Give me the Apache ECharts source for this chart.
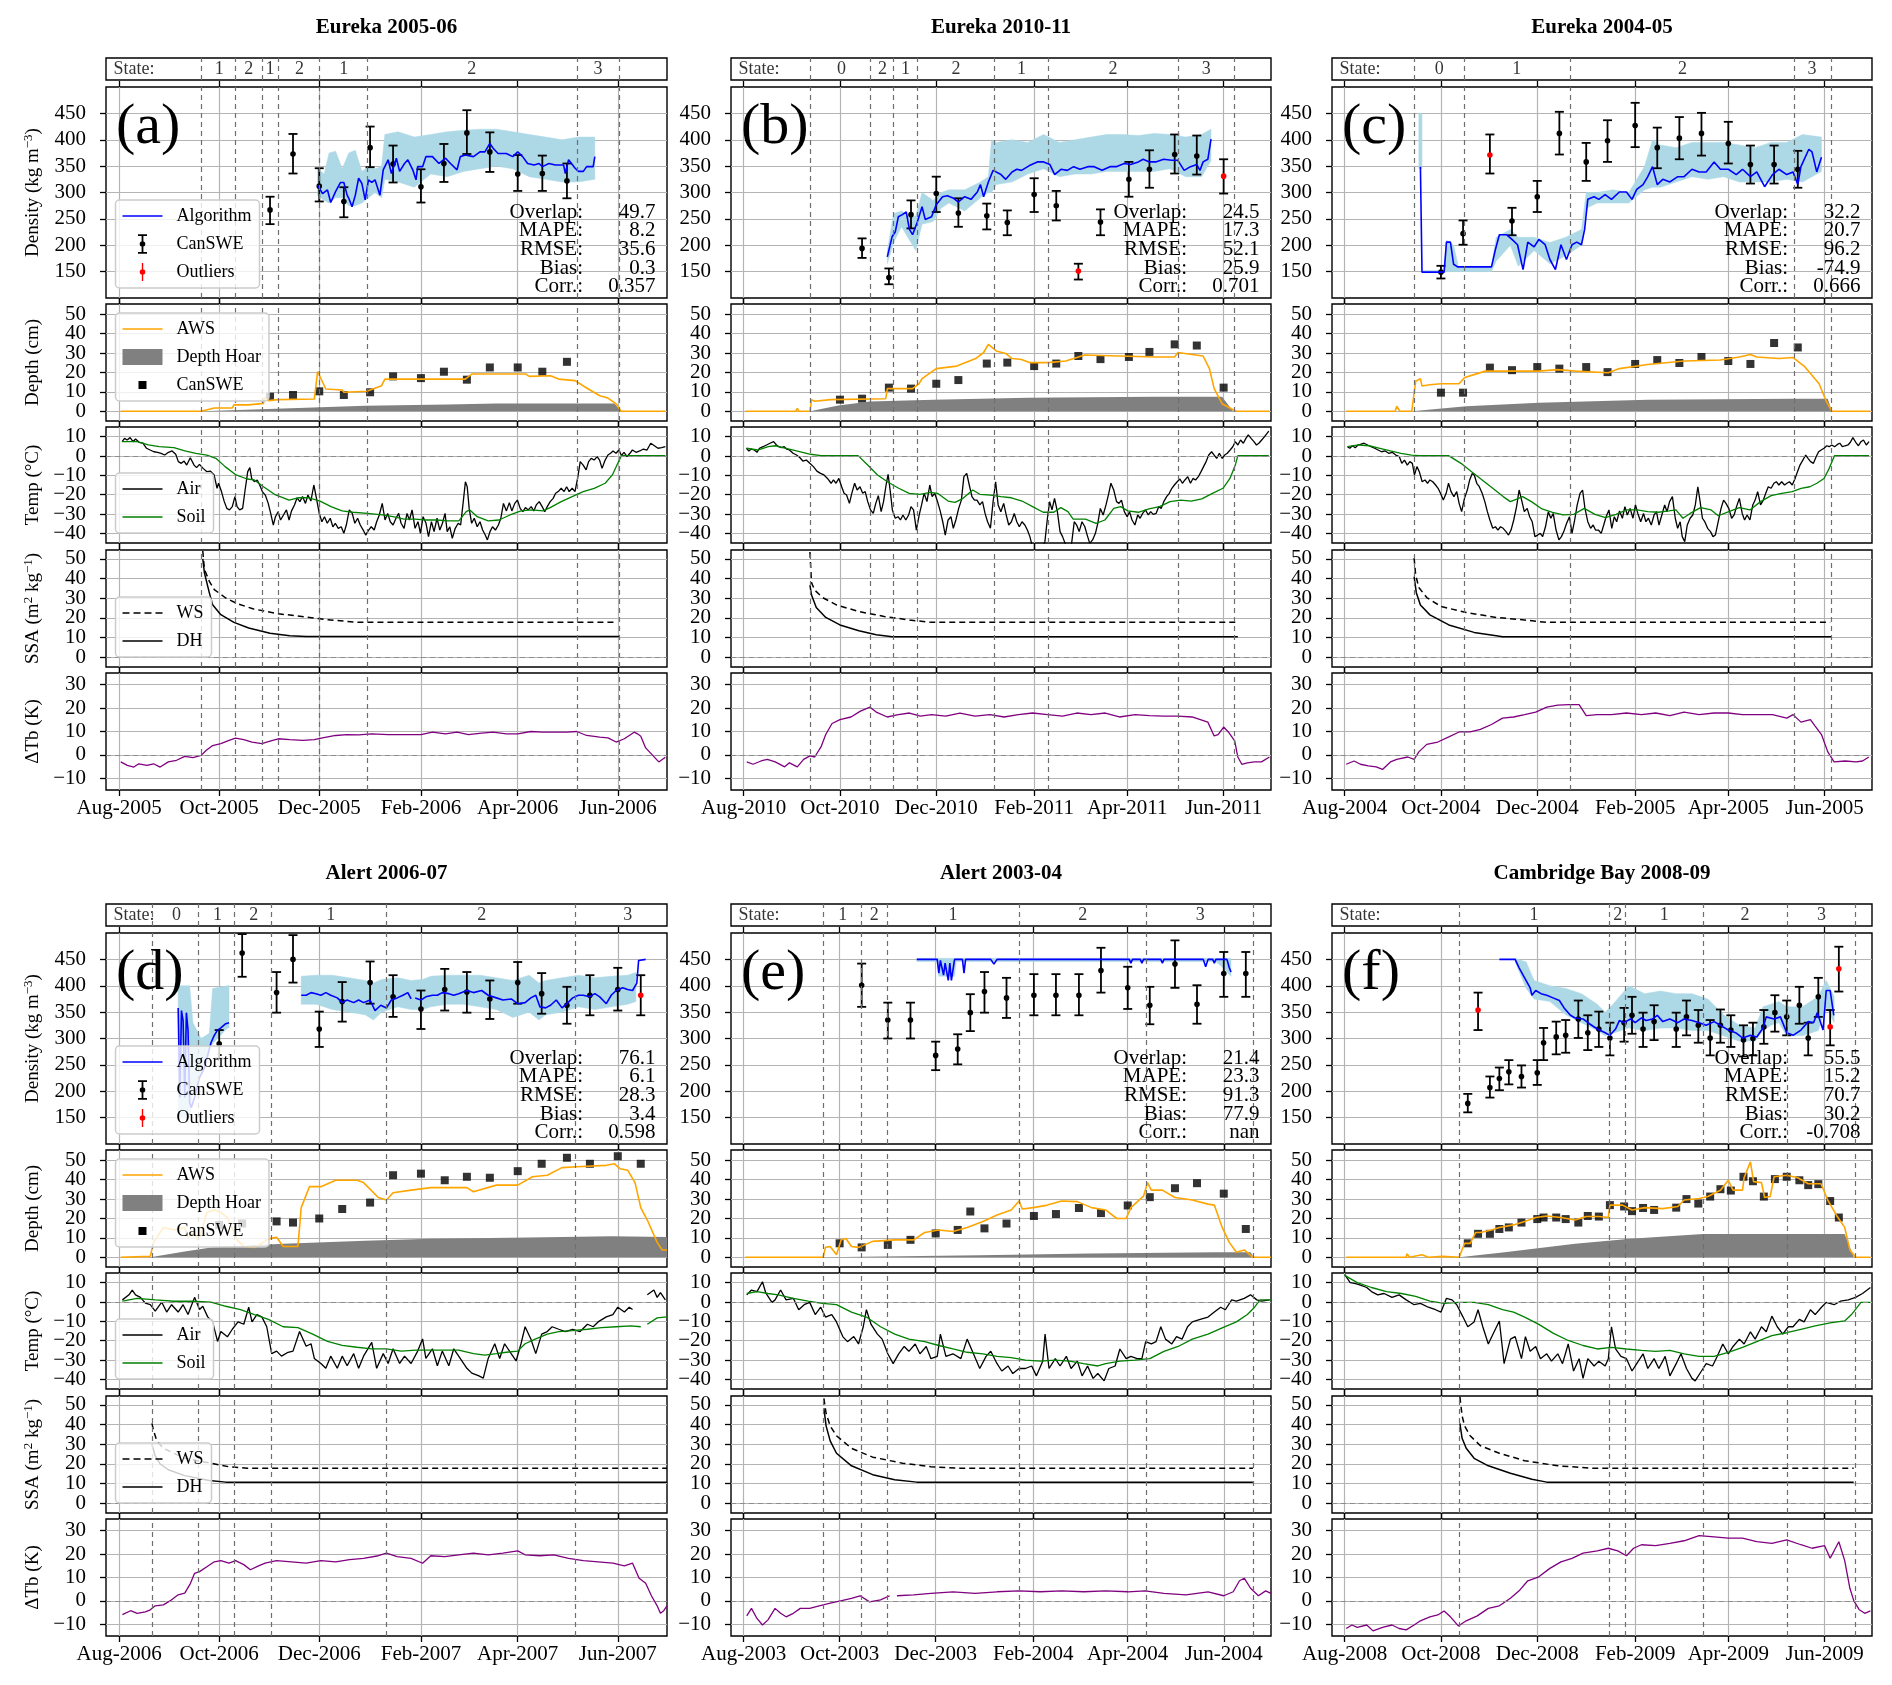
<!DOCTYPE html>
<html><head><meta charset="utf-8">
<script src="https://cdn.jsdelivr.net/npm/echarts@6/dist/echarts.min.js"></script>
<style>html,body{margin:0;padding:0;background:#fff}#c{width:1892px;height:1685px}</style>
</head><body><div id="c"></div>
<script>
// ===================== DATA =====================
const titles = ['Eureka 2005-06','Eureka 2010-11','Eureka 2004-05','Alert 2006-07','Alert 2003-04','Cambridge Bay 2008-09'];
const letters = ['(a)','(b)','(c)','(d)','(e)','(f)'];
const statNames = ['Overlap:','MAPE:','RMSE:','Bias:','Corr.:'];
const xTicksStd = [0,61,122,184,243,304];
const xTicksLeap = [0,61,122,184,244,305];
const densTicks = [150,200,250,300,350,400,450];
const depthTicks = [0,10,20,30,40,50];
const tempTicks = [-40,-30,-20,-10,0,10];
const ssaTicks = [0,10,20,30,40,50];
const dtbTicks = [-10,0,10,20,30];

// ---------- (a) Eureka 2005-06 ----------
const a_xLabels = ['Aug-2005','Oct-2005','Dec-2005','Feb-2006','Apr-2006','Jun-2006'];
const a_stateLines = [50,71,87,97,122,151,279,305];
const a_stateLabels = [[61,'1'],[79,'2'],[92,'1'],[110,'2'],[137,'1'],[215,'2'],[292,'3']];
const a_alg = [[121,314],[124,298],[127,305],[129,281],[132,302],[135,319],[137,319],[139,295],[140,289],[142,273],[144,295],[146,327],[148,317],[150,286],[152,324],[154,319],[156,324],[159,295],[161,343],[164,362],[166,336],[169,365],[171,340],[174,355],[176,362],[179,343],[181,324],[182,349],[185,349],[187,368],[191,368],[195,355],[199,365],[202,355],[206,343],[208,368],[211,371],[216,368],[220,377],[223,377],[226,393],[228,384],[231,374],[236,374],[240,368],[243,377],[246,368],[249,355],[253,352],[256,355],[258,349],[262,355],[266,352],[271,352],[272,336],[274,362],[278,346],[280,340],[283,340],[285,349],[289,349],[290,368]];
const a_band = [[121,295,345],[125,285,335],[128,280,375],[132,290,378],[136,290,345],[140,275,375],[144,275,380],[148,280,340],[152,290,350],[156,300,345],[160,290,350],[162,325,410],[170,320,415],[180,310,405],[190,335,410],[200,330,415],[210,340,418],[220,345,420],[230,350,420],[240,345,415],[250,330,410],[260,325,405],[270,320,400],[280,320,405],[290,325,405]];
const a_canswe = [[92,267,240,292],[106,373,336,411],[122,312,283,346],[137,283,253,310],[153,385,348,425],[167,354,319,389],[184,311,281,344],[198,355,320,392],[212,413,373,456],[226,377,339,414],[243,335,303,371],[258,336,303,370],[273,322,289,355]];
const a_outliers = [];
const a_aws = [[1,0],[50,0],[58,1.7],[69,1.7],[70,3.3],[79,3.3],[80,4.1],[88,4.1],[88.5,7.2],[91,5.5],[97,6],[119,6.3],[121,20.5],[126,11.5],[136,11],[137,9.8],[151,10.3],[160,13.2],[162,16.6],[211,16.6],[215,19.2],[248,19.2],[250,18],[263,18.3],[268,16.6],[278,15.8],[285,12],[293,8],[298,6.8],[303,3.8],[306,0],[333,0]];
const a_dh = [[50,0],[100,1.5],[150,2.8],[200,3.5],[230,4],[302,4],[306,0]];
const a_sweDepth = [[92,7.5],[106,8.4],[122,10.3],[137,8.4],[153,9.8],[167,18],[184,17.1],[198,20.4],[212,16.3],[226,22.6],[243,22.6],[258,20.4],[273,25.5]];
const a_air = [[1.8,7.4],[3.3,9.1],[4.9,8.3],[6.7,9.5],[8.5,7.4],[10,8.8],[12.2,7.1],[14.5,6.6],[16.7,4],[18.9,3.1],[21.2,2.2],[23.4,1.9],[25.6,1.4],[27.8,0.5],[30.1,1.9],[32.3,2.6],[34.5,0.9],[36.1,-2.9],[37.9,-3.8],[39.6,-2.6],[41.2,-4.7],[43.4,-0.9],[45.7,-4.7],[47.2,-6],[49,-4.3],[51.2,-6.4],[53.5,-8.1],[55.7,-7.8],[57.9,-9.8],[59.7,-16.7],[60.6,-14.1],[62.4,-18.4],[64.1,-23.6],[65.7,-27.1],[67.3,-27.9],[69,-26.2],[70.6,-21],[71.9,-26.2],[73.5,-27.9],[75.3,-27.1],[76.8,-17.6],[78.4,-8.1],[79.7,-6],[80.8,-11.6],[82.4,-13.3],[84.2,-12.4],[85.7,-15],[87.3,-18.4],[89.1,-20.2],[90.9,-24.5],[92.4,-29.7],[94,-35.7],[95.3,-31.4],[96.9,-28.8],[98.4,-33.1],[100.2,-30.5],[102,-27.9],[103.6,-33.1],[105.1,-28.4],[106.9,-25.3],[108.5,-21.6],[110.2,-23.6],[111.8,-21],[113.6,-24.5],[115.1,-20.2],[116.9,-23.3],[118.7,-15],[120.3,-21.9],[122,-29.7],[123.6,-34],[125.2,-31.4],[126.9,-34.8],[128.7,-32.2],[130.3,-36.6],[131.8,-34.8],[133.6,-37.4],[135.4,-36.6],[137,-40],[138.5,-35.7],[140.3,-27.9],[142.1,-29.7],[143.7,-34.8],[145.4,-32.2],[147,-35.7],[148.8,-38.3],[150.3,-40.9],[152.1,-38.3],[153.7,-36.6],[155.5,-38.3],[157,-34],[158.6,-30.5],[160.4,-24.5],[162.1,-33.1],[163.7,-29.7],[165.3,-34],[167,-35.7],[168.8,-32.2],[170.4,-29.7],[171.9,-34.8],[173.7,-37.4],[175.5,-29.7],[177,-33.1],[178.6,-27.9],[180.4,-37.4],[182.2,-34],[183.7,-40],[185.3,-31.4],[187.1,-34.8],[188.6,-41.7],[190.4,-34],[192,-39.1],[193.8,-32.2],[195.5,-38.3],[197.1,-34.8],[198.7,-29.7],[200,-39.1],[201.6,-36.6],[203.1,-42.6],[204.9,-37.4],[206.7,-34.8],[208.2,-35.7],[209.8,-23.6],[211.1,-13.3],[212.2,-15.9],[213.4,-27.1],[214.9,-34.8],[216.5,-32.2],[218.3,-36.6],[220,-34],[221.6,-38.3],[223.2,-40.9],[224.5,-43.4],[226.1,-39.1],[227.6,-36.6],[229.4,-38.3],[231.2,-35.7],[232.7,-32.2],[234.3,-24.5],[236.1,-28.4],[237.9,-24.1],[239.4,-28.4],[241.2,-24.5],[242.8,-22.8],[244.5,-27.1],[246.1,-28.8],[247.7,-26.7],[249.4,-27.9],[251.2,-26.2],[252.8,-28.4],[254.3,-25.3],[256.1,-23.6],[257.9,-26.2],[259.5,-28.8],[261,-26.2],[262.8,-23.6],[264.6,-21.9],[266.1,-19.3],[267.7,-18.4],[269.5,-16.7],[271.3,-18.4],[272.8,-15.9],[274.4,-18.4],[276.2,-16.7],[277.9,-18.4],[279.5,-11.6],[281.1,-2.9],[282.9,-4.7],[284.7,-7.2],[286.2,-2.9],[287.8,-1.2],[289.6,-2.1],[291.4,-0.3],[292.9,-2.1],[294.4,-6.4],[296.3,-2.1],[298,0.5],[299.6,1.4],[301.1,2.6],[302.9,1.4],[304.7,3.1],[306.2,0.2],[307.8,1.9],[309.6,-0.3],[311.4,1.4],[312.9,3.1],[315.1,1.9],[317.4,2.6],[319.6,3.6],[321.8,3.1],[324.1,6.6],[326.3,5.3],[328.5,4],[330.7,4.3],[333,4.8]];
const a_soil = [[1.8,7.4],[11.1,7.4],[17.8,5.7],[24.5,4.8],[33.4,4.3],[40.1,2.6],[46.8,1.4],[53.5,0.5],[59,-1.2],[64.6,-5.5],[71.3,-9.8],[78,-11.9],[82.4,-12.4],[88,-15.9],[94.7,-19.8],[103.6,-22.8],[109.1,-21.6],[115.8,-21.6],[122.5,-23.3],[129.2,-26.2],[135.9,-28.4],[142.5,-29.1],[151.4,-29.7],[160.4,-30.5],[167,-31.4],[173.7,-32.6],[180.4,-32.6],[187.1,-33.1],[193.8,-33.1],[200.4,-33.6],[207.1,-33.6],[211.6,-28.8],[213.8,-27.9],[218.3,-31.4],[225,-33.6],[231.6,-33.1],[238.3,-30.5],[245,-28.4],[251.7,-27.9],[258.4,-28.4],[262.8,-26.7],[269.5,-23.6],[276.2,-21],[282.9,-18.4],[289.6,-16.7],[296.3,-14.1],[300.7,-9.8],[304,-3.8],[306.2,0.2],[333,0.2]];
const a_ws = [[51,54],[52,44.6],[55,38.6],[58,34.4],[65,30.1],[72,27.2],[82,24.5],[97,22.1],[114,20.4],[127,19],[139,18.2],[146,17.7],[303,17.7]];
const a_dhs = [[51,50],[52,42.9],[55,32.7],[57,26.7],[62,21.6],[70,17.7],[79,14.8],[92,12.2],[104,10.9],[114,10.5],[305,10.5]];
const a_dtb = [[1,-3],[5,-4.5],[9,-5.2],[12,-3.8],[17,-4.5],[21,-3.8],[25,-5.2],[30,-3],[35,-2.3],[40,-0.6],[45,-1.2],[50,-0.2],[53,1.9],[57,4],[62,4.8],[67,6.2],[71,7.2],[76,6.5],[81,5.5],[87,4.8],[92,5.9],[97,6.9],[104,6.5],[112,6.2],[119,6.5],[124,7.3],[132,8.3],[139,8.7],[146,8.6],[154,9],[164,8.7],[174,8.7],[184,8.7],[191,9.7],[199,9],[206,9.7],[213,8.7],[221,9.3],[228,9.7],[236,9],[243,9],[251,10],[258,9.7],[266,9.7],[273,9.7],[279,10],[285,8.3],[293,7.6],[298,7.3],[303,5.5],[308,6.9],[314,9.7],[316,9],[318,8],[321,3],[325,0],[329,-3],[333,-1]];
const a_stats = ['49.7','8.2','35.6','0.3','0.357'];

// ---------- (b) Eureka 2010-11 ----------
const b_xLabels = ['Aug-2010','Oct-2010','Dec-2010','Feb-2011','Apr-2011','Jun-2011'];
const b_stateLines = [42,80.5,95,110,159,193,275,311];
const b_stateLabels = [[62,'0'],[88,'2'],[102.5,'1'],[134.5,'2'],[176,'1'],[234,'2'],[293,'3']];
const b_alg = [[91,178],[94,216],[96,225],[98,254],[100.5,258],[103,263],[105,230],[107,220],[110,244],[113,273],[115,249],[119,254],[122,277],[126,292],[129,294],[133,289],[136,282],[140,292],[144,287],[148,301],[150,315],[152,292],[155,320],[158,342],[163,334],[166,325],[170,339],[173,344],[176,342],[181,351],[186,358],[190,358],[194,353],[197,334],[201,344],[205,342],[209,349],[213,344],[218,349],[222,349],[227,342],[232,349],[236,349],[241,355],[245,353],[250,358],[253,363],[257,358],[261,358],[266,363],[271,361],[275,361],[279,342],[283,349],[287,353],[289,342],[291,358],[294,363],[296,401]];
const b_band = [[91,165,190],[95,205,260],[100,235,265],[105,210,255],[109,190,255],[113,240,300],[120,245,285],[125,270,300],[130,280,305],[140,265,305],[150,290,320],[155,300,330],[157,300,400],[160,315,395],[170,320,400],[180,335,395],[190,345,410],[200,330,395],[210,335,400],[220,335,405],[230,340,410],[240,340,410],[250,340,408],[260,340,412],[270,345,410],[280,330,405],[290,330,410],[296,360,420]];
const b_canswe = [[75,194,176,213],[92,139,126,156],[106,258,232,285],[122,298,263,330],[136,261,235,289],[154,256,230,279],[167,243,219,266],[184,296,263,327],[198,275,247,303],[226,244,219,268],[244,325,292,358],[257,344,309,380],[273,372,336,410],[287,369,334,408]];
const b_outliers = [[212,151,135,165],[304,331,298,363]];
const b_aws = [[1,0],[33,0],[34,1.5],[35,0],[42,0],[43,6],[45,5.2],[55,6],[90,6.5],[91,11.7],[107,11.7],[111,14.2],[113,16.8],[122,22],[135,23.3],[147,27.2],[152,30.3],[155,34.5],[160,31.1],[166,29.8],[170,27.2],[176,26.7],[181,25.1],[193,25.1],[204,25.9],[216,29],[238,28.5],[261,28],[273,28],[275,30.3],[284,29.3],[291,28.5],[295,22],[298,11.7],[303,3.9],[310,0.8],[312,0],[333,0]];
const b_dh = [[42,0],[60,3],[80,5],[120,6],[180,7],[260,7.5],[303,7.5],[310,0]];
const b_sweDepth = [[61,6],[75,6.5],[92,12.2],[106,11.7],[122,14.2],[136,16.1],[154,24.6],[167,25.1],[184,23.3],[198,24.6],[212,28.5],[226,26.9],[244,28],[257,30.6],[273,34.5],[287,33.9],[304,12.2]];
const b_air = [[1.8,4],[3.3,2.6],[4.9,3.6],[6.7,3.1],[8.5,1.9],[10,4],[12.3,4.8],[14.5,5.7],[16.7,6.6],[19,7.4],[20.8,5.7],[22.3,4.8],[24.1,4.3],[25.7,4.8],[27.2,3.6],[29,3.1],[31.3,1.4],[33.5,0.5],[35.7,-0.9],[37.5,-2.6],[39.7,-2.1],[41.9,-3.8],[44.2,-5.5],[46.4,-7.8],[48.7,-9],[50.9,-9.8],[53.1,-11.6],[55.4,-14.1],[56.9,-12.4],[58.5,-14.1],[60.3,-11.6],[62.1,-15.9],[63.6,-19.3],[65.2,-20.2],[67,-24.5],[68.5,-19.3],[70.3,-14.1],[71.9,-17.6],[73.7,-15.9],[75.4,-19.3],[77,-18.4],[78.6,-23.6],[80.4,-27.9],[82.1,-29.7],[83.7,-24.5],[85.3,-20.5],[87.1,-28.8],[88.6,-23.6],[90.4,-14.1],[91.5,-9.5],[92.9,-18.4],[94.2,-27.9],[96,-32.2],[97.8,-31.4],[99.3,-33.1],[100.9,-30.5],[102.7,-33.1],[104.5,-30.5],[106,-26.2],[107.6,-27.9],[109.4,-38.3],[111.2,-30.5],[112.7,-25.3],[114.3,-19.3],[116.1,-23.6],[117.9,-15],[119.4,-21],[121,-19.3],[122.8,-23.6],[124.6,-28.8],[126.1,-34],[127.7,-40.9],[129.5,-33.1],[131.3,-31.4],[132.8,-37.4],[134.4,-33.1],[136.2,-27.1],[137.9,-22.8],[139.5,-10.7],[141.3,-9],[142.9,-15],[144.6,-21],[146.2,-22.8],[147.8,-22.8],[149.6,-25.3],[151.3,-23.6],[152.9,-29.7],[154.5,-34],[156.3,-37.4],[158,-23.6],[159.6,-13.3],[161.2,-25.3],[162.9,-28.8],[164.7,-24.5],[166.3,-30.5],[167.9,-35.7],[169.6,-34],[171.4,-29.7],[173,-34],[174.6,-36.6],[176.3,-34],[178.1,-35.7],[179.7,-38.3],[181.3,-41.7],[182.6,-46],[186.5,-52],[190.8,-44.3],[192.4,-32.2],[193.8,-23.6],[195.3,-27.9],[196.9,-21.9],[198.7,-28.8],[200.4,-39.1],[202,-41.7],[203.6,-45.2],[205.4,-47],[207.6,-46],[209.4,-34],[210.9,-35.7],[212.5,-39.1],[214.3,-34],[216.1,-36.6],[217.6,-40.9],[219.2,-45.2],[221,-43.4],[222.8,-40],[224.3,-34.8],[225.9,-27.1],[227.7,-30.5],[229.5,-25.3],[231,-20.2],[232.6,-14.1],[234.4,-17.6],[236.2,-23.6],[237.7,-24.5],[239.3,-22.8],[241.1,-28.8],[242.9,-31.4],[244.4,-28.8],[246,-33.1],[247.8,-35.7],[249.6,-30.5],[251.1,-32.2],[252.7,-29.7],[254.5,-27.9],[256.3,-30.5],[257.8,-28.8],[259.4,-30.2],[261.2,-29.7],[262.9,-26.2],[264.5,-27.1],[266.1,-23.6],[267.9,-21],[269.6,-19.3],[271.2,-16.7],[272.8,-15],[274.6,-13.3],[276.3,-11.9],[277.9,-14.1],[279.5,-12.4],[281.3,-10.7],[283,-14.1],[284.6,-11.6],[286.2,-12.4],[288,-10.7],[289.7,-8.1],[291.3,-5.5],[292.9,-2.9],[294.6,0.5],[296.4,2.2],[298,0.5],[299.6,-1.2],[301.3,1.4],[303.1,-1.2],[304.7,0.5],[306.3,1.4],[308.1,3.1],[309.8,4.8],[311.4,7.4],[313,5.7],[314.7,8.3],[316.5,6.6],[318.1,9.1],[319.6,10.9],[321.4,9.1],[323.2,7.4],[324.8,5.7],[326.3,6.6],[328.1,8.3],[329.9,10],[331.5,11.7],[332.6,12.9]];
const b_soil = [[1.8,4],[8.9,3.1],[15.6,4.8],[20.1,5.3],[26.8,4],[33.5,2.6],[42.4,0.9],[49.1,0.2],[72.5,0.2],[78.1,-4.3],[84.8,-9.8],[91.5,-13.6],[98.2,-16.7],[104.9,-19.3],[111.6,-19.8],[118.3,-18.8],[122.8,-19.3],[129.5,-23.3],[133.9,-24],[138.4,-22.2],[145.1,-17.6],[149.6,-19.8],[156.3,-20.2],[162.9,-21],[169.6,-21.6],[176.3,-23.3],[183,-26.2],[189.7,-29.1],[196.4,-29.1],[200.9,-26.7],[205.4,-28.8],[208.7,-32.6],[216.5,-32.6],[223.2,-34.8],[228.8,-33.1],[234.4,-27.1],[238.8,-26.2],[243.3,-28.4],[250,-29.1],[256.7,-27.4],[263.4,-26.2],[270.1,-23.6],[276.8,-22.8],[283.5,-23.3],[290.2,-22.2],[296.9,-19.3],[303.6,-16.7],[308,-11.6],[311.4,-4.7],[313,0.2],[332.6,0.2]];
const b_ws = [[42,53.5],[43,37.9],[45,34.1],[50,30.3],[59,26.5],[73,23.2],[89,20.7],[105,18.9],[119,17.7],[312,17.7]];
const b_dhs = [[42,36.6],[43,31.6],[46,25.3],[52,20.2],[61,16.4],[73,13.4],[84,11.4],[94,10.4],[313,10.4]];
const b_dtb = [[2,-3],[6,-4],[11,-2.6],[15,-1.9],[20,-3],[26,-5.1],[29,-3.4],[34,-5.1],[38,-1.9],[42,-0.4],[45,-0.9],[49,3.4],[52,8.7],[56,13.4],[61,15.1],[68,16.2],[74,18.7],[80,20.4],[84,18.3],[91,16.2],[98,17.2],[105,17.9],[112,16.6],[119,17.2],[128,16.6],[137,17.9],[146.5,16.6],[156,17.2],[165,16.2],[174,17.2],[183,17.9],[192.5,17.2],[202,16.6],[211,17.9],[220,17.2],[229,17.9],[238,16.2],[248,17.2],[257,16.8],[266,16.6],[275,16.6],[284,16.2],[294,14],[298,8.1],[300.5,8.7],[304,11.9],[307,9.8],[311,6],[313,-0.9],[315.5,-4],[319,-3.4],[323.5,-3],[328,-3],[333,-0.9]];
const b_stats = ['24.5','17.3','52.1','25.9','0.701'];

// ---------- (c) Eureka 2004-05 ----------
const c_xLabels = ['Aug-2004','Oct-2004','Dec-2004','Feb-2005','Apr-2005','Jun-2005'];
const c_stateLines = [44,75.5,143,284.5,308];
const c_stateLabels = [[60,'0'],[109,'1'],[214,'2'],[296,'3']];
const c_alg = [[48,349],[49,149],[63,149],[64.5,206],[67,206],[69,164],[71.5,159],[93,159],[95.5,192],[98,220],[102.5,220],[106,211],[109.5,201],[113,154],[116,206],[120,197],[123,211],[127,201],[130,173],[133.5,154],[137,201],[140.5,173],[144,201],[147,206],[150,201],[152,230],[154,287],[158,292],[161,287],[165,296],[169,287],[174,301],[178.5,301],[182,287],[185,306],[189,315],[192,330],[195,349],[198,315],[201.5,325],[206,320],[211,330],[215,330],[220,344],[224.5,339],[229,339],[234,358],[238,344],[243,344],[248,334],[252,344],[257,330],[261,339],[266,311],[271,334],[275,344],[280,334],[284,339],[287,315],[289,349],[294,382],[296,377],[299,339],[302,367]];
const c_band = [[47,345,450],[49,345,450],null,[50,148,152],[63,148,152],[64.5,150,210],[69,150,200],[72,150,160],[93,150,160],[96,170,215],[105,200,230],[110,160,215],[120,190,215],[130,165,205],[140,180,215],[150,200,230],[153,270,300],[160,280,300],[170,280,305],[180,280,300],[190,305,350],[195,310,400],[200,310,390],[210,320,385],[220,330,395],[230,325,395],[240,330,395],[250,320,390],[260,320,385],[270,320,395],[280,325,395],[290,320,410],[302,340,405]];
const c_canswe = [[61,149,137,161],[75,222,201,247],[106,246,219,271],[122,292,263,322],[136,412,372,453],[153,358,322,394],[166.5,398,358,437],[184,427,386,470],[198,385,346,423],[212,403,363,443],[226,412,370,451],[243,393,355,434],[257,353,317,389],[272,353,317,389],[287,344,309,379]];
const c_outliers = [[92,371,336,410]];
const c_aws = [[1,0],[32,0],[33,2.6],[35,0],[42.5,0],[45,15.5],[48,16.8],[49,13],[54,13.7],[61,14.2],[72.5,14.2],[76,17.4],[82,18.9],[89,20.7],[123,20.7],[135,21.5],[146,20.7],[167,19.9],[174,22],[192,24.1],[215,25.9],[238,26.4],[250,28],[257,29.3],[261,28],[275,27.2],[284,27.7],[291,23.3],[300.5,14.2],[305,5.2],[308.6,0],[333,0]];
const c_dh = [[42.5,0],[77,2.6],[123,4.4],[192,6],[284,6.5],[306,6.5],[308.6,0]];
const c_sweDepth = [[61,9.6],[75,9.6],[92,22.5],[106,21.2],[122,22.8],[136,22],[153,22.8],[166.5,20.2],[184,24.4],[198,26.4],[212,24.9],[226,28],[243,25.9],[257,24.4],[272,35.2],[287,32.9]];
const c_air = [[1.8,4.8],[3.3,4],[4.9,5.3],[6.7,4.3],[8.5,5.7],[10,6],[12.3,6.6],[14.5,5.7],[16.7,4.8],[19,4],[21.2,3.1],[23.4,2.2],[25.7,2.6],[27.9,1.4],[30.1,1.9],[32.4,0.5],[34.6,-0.3],[36.2,-3.8],[37.9,-2.1],[39.7,-4.7],[41.3,-2.9],[42.9,-3.8],[44.2,-9.8],[45.8,-5.5],[47.3,-8.1],[49.1,-13.3],[50.9,-12.4],[52.5,-14.1],[54,-12.4],[55.8,-13.3],[57.6,-15],[59.2,-16.7],[60.7,-19.3],[62.5,-22.8],[64.3,-19.3],[65.8,-14.1],[67.4,-18.4],[69.2,-21],[71,-18.4],[72.5,-24.5],[74.1,-28.8],[75.9,-21.9],[77.7,-17.6],[79.2,-12.4],[80.8,-9],[82.1,-9.8],[83.7,-14.1],[85.3,-15.9],[87.1,-19.3],[88.8,-23.6],[90.4,-28.8],[92,-33.1],[93.8,-37.4],[95.5,-36.6],[97.1,-38.3],[98.7,-36.6],[100.4,-37.4],[102.2,-39.1],[103.8,-40.9],[105.4,-38.3],[107.1,-33.1],[108.9,-26.2],[110.5,-17.6],[112.1,-22.8],[113.8,-28.8],[115.6,-27.1],[117.2,-31.4],[118.8,-34],[120.5,-41.7],[122.3,-40.9],[123.9,-40],[125.4,-41.7],[127.2,-36.6],[129,-28.8],[130.6,-32.2],[132.1,-29.7],[133.9,-38.3],[135.7,-43.4],[137.3,-41.7],[138.8,-39.1],[140.6,-34.8],[142.4,-31.4],[144,-40],[145.5,-34],[147.3,-25.3],[149.1,-19.3],[150.7,-17.6],[152.2,-27.1],[154,-34],[155.8,-37.4],[157.4,-35.7],[158.9,-38.3],[160.7,-38.3],[162.5,-40],[164.1,-35.7],[165.6,-31.4],[167.4,-27.9],[169.2,-37.4],[170.8,-31.4],[172.3,-34],[174.1,-28.4],[175.9,-32.2],[177.5,-26.2],[179,-30.5],[180.8,-27.1],[182.6,-32.2],[184.2,-25.3],[185.7,-29.7],[187.5,-34],[189.3,-29.7],[190.8,-34],[192.4,-32.2],[194.2,-35.7],[196,-30.5],[197.5,-28.8],[199.1,-35.7],[200.9,-30.5],[202.7,-25.3],[204.2,-28.8],[205.8,-23.6],[207.6,-21],[209.4,-32.2],[210.9,-37.4],[212.5,-34],[213.8,-41.7],[215.4,-44.3],[217,-35.7],[218.8,-32.2],[220.5,-30.5],[222.1,-25.3],[223.7,-15.9],[225,-22.8],[226.6,-32.2],[228.1,-34],[229.9,-37.4],[231.7,-39.1],[233.3,-41.7],[234.8,-40.9],[236.6,-34],[238.4,-27.1],[240,-22.8],[241.5,-24.5],[243.3,-27.1],[245.1,-32.2],[246.7,-30.5],[248.2,-26.2],[250,-21.9],[251.8,-29.7],[253.3,-33.1],[254.9,-30.5],[256.7,-33.1],[258.5,-25.3],[260,-22.8],[261.6,-18.4],[263.4,-25.3],[265.2,-22.8],[266.7,-19.3],[268.3,-15.9],[270.1,-16.7],[271.9,-14.1],[273.4,-13.3],[275,-15],[276.8,-13.3],[278.6,-15],[280.1,-14.1],[281.7,-13.3],[283.5,-15],[285.3,-11.6],[286.8,-8.1],[288.4,-4.7],[290.2,-2.1],[292,0.5],[293.5,-1.2],[295.1,-2.9],[296.9,-3.8],[298.7,-0.3],[300.2,2.2],[301.8,3.1],[303.6,4],[305.4,5.3],[306.9,4.8],[308.5,5.7],[310.3,4.8],[312.1,6],[313.6,6.6],[315.2,4.8],[317,5.3],[318.8,5.7],[320.3,7.1],[321.9,9.5],[323.7,7.1],[325.4,5.3],[327,7.4],[328.6,8.3],[330.4,5.7],[332.1,7.4]];
const c_soil = [[1.8,4.8],[8.9,5.7],[15.6,5.3],[22.3,4],[29,2.6],[35.7,1.4],[42.4,0.5],[47.1,0.2],[65.8,0.2],[73.7,-3.8],[80.4,-8.1],[87.1,-12.4],[93.8,-16.7],[100.4,-21],[104.9,-23.6],[109.4,-22.2],[112.7,-21],[118.3,-23.6],[125,-27.4],[131.7,-29.1],[138.4,-30.5],[145.1,-30.2],[151.8,-27.1],[158.5,-30.2],[165.2,-31.9],[171.9,-30.2],[178.6,-27.9],[185.3,-27.9],[192,-28.8],[198.7,-29.1],[205.4,-28.4],[209.8,-27.9],[214.3,-32.2],[218.8,-29.7],[225.4,-26.7],[232.1,-27.9],[236.6,-30.9],[243.3,-28.8],[250,-26.7],[256.7,-27.9],[263.4,-23.6],[270.1,-20.5],[276.8,-19.3],[283.5,-18.4],[289.1,-16.7],[294.6,-15.9],[299.1,-14.1],[303.6,-11.6],[306.9,-6.4],[310.3,0.2],[332.1,0.2]];
const c_ws = [[44,50.5],[45,41.7],[47,35.4],[52,30.3],[61,25.8],[77,22.7],[96,20.2],[114,18.9],[128,17.7],[307.5,17.7]];
const c_dhs = [[44,40.9],[45.4,32.8],[48,26.5],[54,21.5],[66,16.4],[82,12.6],[96,10.9],[100,10.4],[308.6,10.4]];
const c_dtb = [[1,-4],[6,-2.6],[10,-4],[15,-4.7],[20,-5.1],[24,-6.2],[29,-3],[33,-1.9],[40,-0.9],[44,-1.9],[47,1.3],[52,4.5],[59,5.5],[66,7.7],[72.5,9.8],[79.5,9.8],[86,10.9],[93,13],[100,15.7],[107,16.2],[114,17.2],[121,18.3],[128,20.4],[135,21.3],[142,21.5],[148.5,21.5],[153,16.8],[160,17.2],[169,17.2],[178.5,17.9],[188,17.2],[197,17.9],[206,16.8],[215,18.3],[224.5,17.2],[234,17.9],[243,17.9],[252,17.2],[261,17.2],[271,17.2],[280,15.7],[284,17.2],[289,14],[295,15.1],[298,12.3],[302,8.7],[306,1.3],[310,-3],[317,-2.6],[324,-3],[328,-2.6],[332,-0.9]];
const c_stats = ['32.2','20.7','96.2','-74.9','0.666'];

// ---------- (d) Alert 2006-07 ----------
const d_xLabels = ['Aug-2006','Oct-2006','Dec-2006','Feb-2007','Apr-2007','Jun-2007'];
const d_stateLines = [20,48,70,93,163,278];
const d_stateLabels = [[35,'0'],[60,'1'],[82,'2'],[129,'1'],[221,'2'],[310,'3']];
const d_alg = [[36,358],[37,188],[38,353],[39,334],[40,188],[41,349],[42,316],[43,178],[44,169],[46,188],[49,226],[52,244],[56,292],[58,306],[60,316],[62,320],[65,328],[67,330],null,[111,382],[114,382],[117,387],[120,385],[123,382],[126,387],[129,382],[133,377],[136,368],[139,373],[143,368],[146,373],[149,368],[153,373],[156,353],[159.5,363],[163,358],[166,373],[169.5,377],[173,382],[176,387],[178,375],null,[180.5,377],[184,373],[187,379],[191,382],[194,382],[197,387],[201,385],[204,382],[207,385],[212,391],[216,387],[221,391],[225,382],[230,377],[234,373],[239,375],[243,366],[247.5,368],[251,377],[254,382],[256.5,360],[260,358],[263,363],[266.5,373],[270,358],[273,366],[276.5,377],[280,382],[283,382],[286.6,379],[290,385],[293,379],[297,366],[300,382],[303,391],[307,396],[310,393],[313,391],[315.6,405],[316.7,448],[321,450]];
const d_band = [[36,150,400],[43,150,400],[45,200,330],[50,230,300],[55,280,310],[57,290,395],[66,320,400],[67,320,400],null,[111,365,418],[120,365,420],[130,355,420],[140,350,415],[150,345,410],[155,335,405],[160,350,412],[170,360,415],[178,355,410],[185,355,412],[190,360,418],[200,365,420],[210,365,420],[220,360,420],[230,355,415],[240,340,410],[250,350,420],[256,335,405],[260,345,410],[270,350,415],[280,360,420],[290,355,415],[300,360,418],[310,365,420],[315,370,425]];
const d_canswe = [[61,290,262,316],[75,462,417,498],[96,387,349,426],[106,450,406,496],[122,318,284,351],[136,370,332,407],[153,406,366,446],[167,379,341,420],[184,356,318,391],[198.5,393,353,432],[212,388,349,426],[226,375,337,410],[243,406,366,445],[257.6,385,347,424],[273,363,328,398],[287,382,344,420],[304,393,353,434]];
const d_outliers = [[318,382,344,420]];
const d_aws = [[1,0],[19,0.5],[21,7.7],[27,15.4],[33.5,14.1],[40,15.4],[42,10.3],[46,12.8],[48,9],[50,12.8],[53.5,23.1],[58,24.4],[62,23.1],[66,20.5],[67,20.5],[72,9],[76,5.6],[82.5,5.1],[87,7.2],[91,9.5],[96,10.3],[100,5.6],[109,5.6],[111,25.6],[116,36.4],[123,36.4],[132,39.7],[145,39.7],[149,38.5],[158,30.8],[163,29.5],[167,33.3],[178,34.6],[190,35.9],[212,35.9],[216,33.8],[230,37.2],[243,37.2],[252,41.5],[261,42.3],[270,46.2],[279,46.7],[297,47.4],[302,48.2],[305.5,45.6],[310,44.9],[314.5,38.5],[318,25.6],[322,19.2],[328,7.7],[331,3.8],[334,3.8]];
const d_dh = [[19,0],[40,3],[56,5],[100,7],[150,8.5],[190,9.5],[250,10.2],[300,10.8],[334,10.5]];
const d_sweDepth = [[61,16.7],[75,17.4],[96,18.5],[106,17.9],[122,20],[136,24.9],[153,28.2],[167,42.3],[184,43.1],[198.5,39.7],[212,41.5],[226,41],[243,44.4],[257.6,48.2],[273,51.3],[287,48.2],[304,52.1],[318,48.2]];
const d_air = [[2,1.1],[6,3.7],[8,6.2],[10,3.7],[13,2.4],[16,-0.6],[19,-1.4],[22,-4.7],[26,-0.1],[29,-5.2],[32,-1.4],[36,-5.2],[39,-1.4],[42,-6.5],[46,2.4],[49,-3.9],[51,-2.2],[54,-7.7],[57,-10.3],[60,-20.4],[62,-15.3],[66,-18],[69,-14.1],[72.5,-10.3],[76,-11.5],[79,-2.7],[81,-10.3],[84,-6.5],[87,-7.7],[90,-12.8],[93,-26.7],[96,-25.4],[99,-28],[103,-26],[106,-25.4],[110,-15.3],[114,-22.9],[117,-21.6],[119,-29.2],[123,-31.8],[126,-34.3],[129,-28],[133,-34.3],[136,-28],[139,-33],[143,-26.7],[146,-34.3],[149,-28],[154,-20.9],[157,-34.3],[161,-26.7],[164,-31.8],[167,-24.2],[171,-31.8],[174,-28],[178,-31.8],[182,-25.4],[185,-19.1],[187,-29.2],[191,-24.2],[194,-33],[197,-25.4],[201,-33],[204,-24.2],[207,-28],[212,-34.3],[215,-36.8],[219,-38.1],[222,-39.4],[225,-29.2],[229,-21.6],[232,-29.2],[235,-21.6],[239,-26.7],[242,-30.5],[245,-21.6],[247.5,-12.8],[251,-19.1],[254,-26.7],[257.6,-16.6],[261,-15.3],[264,-12.8],[268,-14.1],[272,-15.3],[276.5,-14.1],[281,-15.3],[285.5,-11.5],[289,-12.8],[292,-10.3],[297,-7.7],[301,-6.5],[304,-2.7],[308,-5.2],[311,-2.7],[313,-3.9],null,[322,3.7],[326,6.2],[328,2.4],[330,4.9],[333,1.1]];
const d_soil = [[2,0.4],[11,1.9],[22,1.1],[33.5,0.4],[45,0.4],[56,-0.1],[65,-2.2],[74,-3.9],[82.5,-6.5],[91,-9],[100,-12.8],[109,-13.3],[118,-16.6],[127,-20.4],[136,-22.4],[145,-23.4],[154,-24.2],[163,-24.2],[172,-25.4],[181,-24.9],[190,-24.9],[198.5,-24.9],[207,-24.9],[216,-26.7],[223,-27.5],[230,-26.7],[236,-26],[243,-25.4],[247.5,-21.6],[254,-19.1],[261,-16.6],[268,-15.3],[276.5,-14.8],[285.5,-14.1],[294,-13.3],[303,-12.8],[312,-12.3],[318,-12.8],null,[322,-11.5],[328,-8.2],[334,-7.7]];
const d_ws = [[20,40.6],[21,36.8],[23,31.7],[27,27.9],[40,22.8],[56,20.3],[67,18.5],[78,17.8],[334,17.8]];
const d_dhs = [[20,30],[22,24],[25,20],[30,17],[40,14],[55,11.5],[65,10.7],[334,10.7]];
const d_dtb = [[2,-5.9],[7,-4.2],[11,-5.3],[16,-4.7],[19,-3.8],[22,-2.1],[27,-1.7],[31,0],[36,2.6],[40,3.3],[43.5,7.5],[46,11.8],[49,12.5],[53.5,14.6],[58,16.7],[62,17.2],[67,16.1],[71,17.2],[76,15.5],[80,13.3],[85,15],[89,16.1],[96,17.2],[105,16.7],[114,16.1],[123,17.2],[132,16.7],[140.5,17.6],[149,18.2],[158,19.3],[163,20.4],[169.5,18.9],[178,18.2],[185,16.1],[190,19.3],[198.5,18.9],[207,19.7],[216,20.4],[225,19.7],[234,20.4],[243,21.4],[247.5,19.7],[256.5,19.3],[265,19.7],[274,18.2],[283,17.2],[292,16.7],[301,16.1],[308,15],[313,16.1],[317,9.7],[321,7.5],[324.5,2.2],[328,-2.1],[330,-5.3],[332,-4.2],[334,-2.1]];
const d_stats = ['76.1','6.1','28.3','3.4','0.598'];

// ---------- (e) Alert 2003-04 ----------
const e_xLabels = ['Aug-2003','Oct-2003','Dec-2003','Feb-2004','Apr-2004','Jun-2004'];
const e_stateLines = [50.5,75,91.5,175,256,324];
const e_stateLabels = [[63,'1'],[83,'2'],[133,'1'],[215.5,'2'],[290,'3']];
const e_alg = [[110,450],[123,450],[124,424],[125,448],[127,420],[128,443],[130,410],[131,443],[132,410],[134,450],[139,450],[140,424],[141,450],[157,450],[159,441],[161,450],[245,450],[246,443],[247,450],[252,450],[253,443],[254,450],[265,450],[266,443],[267,450],[292,450],[293.5,436],[295,450],[298,450],[299,443],[300,450],[307,450],[308.5,434],[309.6,426]];
const e_band = [[110,446,452],[123,446,452],[124,418,452],[134,418,452],[135,446,452],[300,446,452],[306,430,452],[309.6,418,452]];
const e_canswe = [[75,401,360,442],[91.6,335,300,368],[106,335,300,368],[122,268,240,294],[136,280,251,308],[144,349,314,384],[153,389,349,426],[167,377,339,415],[184.4,382,344,422],[198.4,382,344,422],[213,382,344,422],[227,429,387,472],[244,396,356,436],[258,363,327,398],[274,441,396,486],[288,365,328,401],[305,423,379,464],[319,423,379,464]];
const e_outliers = [];
const e_aws = [[1,0],[50.5,0],[52,5.1],[55,5.6],[59,1.3],[62,9],[65,9.7],[68.5,5.6],[73,5.1],[82,8.2],[96,9],[108,9],[115,12.8],[124,14.1],[133,13.3],[142,15.4],[152,18.5],[161,21.8],[170,24.4],[175,29],[177,24.9],[184,25.6],[193,26.9],[202,29],[212,28.7],[221,25.6],[230,24.4],[237,20],[243,20],[246,25.6],[254,31.5],[256.6,38.5],[259,34.6],[266,34.6],[274,30.8],[285,29.5],[295,27.4],[299,26.9],[304,15.4],[308.5,7.7],[313,2.6],[318,3.8],[323.5,0],[335,0]];
const e_dh = [[50.5,0],[150,1],[220,2],[300,2.6],[322,2.6],[324,0]];
const e_sweDepth = [[61,7.2],[75,5.1],[91.6,6.4],[106,9],[122,12.3],[136,14.1],[144,23.6],[153,14.9],[167,17.4],[184.4,21.3],[198.4,22.3],[213,25.4],[227,22.8],[244,26.7],[258,31],[274,35.6],[288,38.2],[305,32.8],[319,14.6]];
const e_air = [[2,3.7],[5,6.2],[8.5,5.4],[12,10.5],[14,4.9],[18,-0.2],[20,1.1],[23.5,6.2],[27,1.1],[31.6,1.9],[35,-4],[38.5,-1.4],[42,-0.2],[45.5,-6.5],[49,-2.7],[52,-7.8],[56,-6.5],[59,-10.3],[63,-17.9],[66,-20.5],[70,-17.9],[73,-21.7],[76,-12.8],[78,-4],[81,-11.6],[85,-16.6],[88,-19.2],[91.6,-26.8],[95,-31.9],[98.5,-26.8],[102,-23],[105,-25.5],[109,-21.7],[112,-26.8],[116,-23],[119,-29.3],[123,-28.1],[125,-16.6],[128.5,-28.1],[133,-26.8],[138,-29.3],[142,-19.2],[146,-26.8],[150,-34.4],[154,-28.1],[157,-25.5],[161,-31.9],[164,-35.7],[168,-33.1],[171,-37],[175,-34.4],[179,-34.4],[183,-33.1],[186,-38.2],[190,-30.6],[191.5,-16.6],[194,-34.4],[198,-29.3],[201,-33.1],[205,-28.1],[208,-34.4],[212,-30.6],[215,-38.2],[218.5,-33.1],[222,-39.5],[225,-37],[229,-40.8],[232,-34.4],[236,-33.1],[239,-24.3],[243,-29.3],[246,-28.1],[250,-29.3],[253,-29.3],[255.4,-20.5],[259,-21.7],[262,-20.5],[265,-12.8],[268,-19.2],[272,-21.7],[275,-17.9],[278.5,-19.2],[282,-12.8],[285,-10.3],[290,-9],[295,-7.8],[299,-5.2],[303,-2.7],[306,-4],[310,1.1],[313,0.4],[318,1.9],[322,3.7],[326,1.1],[329,0.4],[334,1.1]];
const e_soil = [[2,4.4],[8.5,5.4],[15.5,4.4],[22,3.7],[31.6,1.9],[41,0.4],[50,-0.7],[59,-1.4],[68.5,-5.2],[78,-7.8],[87,-12.8],[96,-16.6],[105,-19.2],[115,-20.5],[124,-22.5],[133,-24.3],[142,-26],[152,-26.8],[161,-28.1],[170,-28.8],[179,-30.1],[188.5,-30.6],[198,-30.1],[207,-30.6],[216,-31.9],[225,-33.1],[230,-31.9],[239,-30.6],[248.5,-30.1],[258,-29.3],[267,-25.5],[276,-23],[285,-19.2],[295,-16.6],[304,-13.4],[313,-10.3],[320,-6.5],[324.6,-2.7],[328,1.1],[335,1.1]];
const e_ws = [[51,53.3],[52.4,45.7],[55,39.3],[59,34.3],[68.5,27.9],[82,23.4],[101,20.3],[119,18.5],[135,17.8],[323.5,17.8]];
const e_dhs = [[51,48.2],[52.4,39.3],[55,31.7],[59,25.4],[68.5,19],[82,14.5],[96,11.9],[110,10.7],[323.5,10.7]];
const e_dtb = [[2,-6.4],[5,-3.2],[8.5,-7.5],[12,-10.3],[15.5,-8.1],[20,-3.2],[23.5,-5.3],[27,-6.8],[31.6,-5.3],[36,-3.2],[42,-3.2],[48,-2.1],[55,-1],[61.6,0],[68.5,1.1],[74,2.2],[80,-0.4],[87,0.4],[92.8,2.2],null,[97.4,2.2],[108,2.6],[119,3.2],[133,3.9],[147,3.2],[161,3.9],[175,4.3],[188.5,3.9],[202,4.3],[216,3.9],[230,4.3],[244,3.9],[255,4.3],[267,3.2],[281,2.6],[295,3.9],[305,2.2],[311,3.9],[315,8.6],[318,9.7],[322,5.4],[327,2.2],[331.6,4.3],[335,3.2]];
const e_stats = ['21.4','23.3','91.3','77.9','nan'];

// ---------- (f) Cambridge Bay 2008-09 ----------
const f_xLabels = ['Aug-2008','Oct-2008','Dec-2008','Feb-2009','Apr-2009','Jun-2009'];
const f_stateLines = [72.5,167.7,178,227,280.3,323.6];
const f_stateLabels = [[120,'1'],[173,'2'],[202.5,'1'],[253.5,'2'],[302,'3']];
const f_alg = [[98,450],[108,450],[110.5,434],[114,415],[117.5,396],[118.6,382],[121,391],[124.4,385],[128,382],[132,377],[136,372],[139,358],[143,344],[146,339],[151,337],[155,328],[160,318],[165,311],[168,306],[171.6,318],[174,334],[177,330],[181,337],[184,330],[188,339],[191,334],[195,337],[198,344],[201.5,332],[206,337],[211,330],[215,337],[220,334],[224.5,330],[229,325],[234,332],[238,325],[243,316],[247.6,311],[252,301],[257,306],[261,303],[265,320],[267,341],[272,337],[276,341],[280,311],[284,306],[289,316],[293.6,332],[297,330],[299.4,349],[303,316],[305,391],[307.5,391],[309.8,344]];
const f_band = [[108,445,452],[115,395,445],[120,375,410],[130,370,400],[140,345,395],[150,330,385],[160,315,365],[165,305,350],[170,310,365],[180,320,400],[190,315,385],[200,320,390],[210,320,385],[220,315,385],[230,315,375],[240,305,345],[250,295,325],[260,295,320],[265,315,360],[270,325,365],[275,330,370],[280,305,360],[290,305,360],[300,315,380],[305,360,410],[310,330,380]];
const f_canswe = [[78,177,160,195],[92,207,188,228],[98,224,202,245],[104,237,213,259],[112,228,207,249],[122,235,212,259],[126,292,259,320],[134,303,270,332],[140,306,273,335],[148,337,301,372],[154,311,278,344],[161,318,284,351],[168,301,268,330],[177,330,294,358],[182,344,309,379],[189,318,284,349],[196,332,297,363],[210,318,284,349],[216.5,341,306,372],[224,325,292,354],[231.5,301,268,335],[238,325,292,355],[244.6,316,284,344],[252.6,297,266,325],[258.6,300,268,330],[265.5,322,290,354],[272.5,349,313,382],[280,341,306,372],[288,363,328,398],[293.6,301,268,330],[300,379,341,415]];
const f_outliers = [[84.5,354,316,387],[307.5,322,287,354],[313,432,389,474]];
const f_aws = [[1,0],[39,0],[39.5,1.8],[41,0],[49,1.3],[53,0],[62,0.5],[72.5,0],[76,7.2],[79.5,7.2],[83,12.8],[86,12.8],[93,14.1],[98,15.4],[107,16.7],[114,18.5],[121,20.5],[128,21.3],[137,20.5],[146,19.2],[153,21],[161,21],[167,20.5],[168,26.9],[176,26.9],[182,24.4],[190,25.6],[201.5,25.1],[211,26.2],[215,29.5],[224.5,30.3],[230,31.3],[238,34.6],[243,39.7],[246,34.6],[252,34.6],[253,41],[257,49.2],[259,39],[264,38.5],[266,30.8],[269.5,31.3],[272,41.5],[280,42.3],[287,41],[293.6,37.9],[301.7,37.9],[306,29.5],[312,21],[316.7,15.4],[320,3.8],[323.6,0],[333,0]];
const f_dh = [[72.5,0],[100,2.5],[146,7],[181,9.5],[227,12],[316.7,12],[322.5,0]];
const f_sweDepth = [[78,7.2],[84.5,12.1],[92,12.1],[98,14.6],[104,15.4],[112,17.9],[122,19.7],[126,20.5],[134,20.5],[140,19.7],[148,17.9],[154,21.3],[161,21],[168,26.9],[177,26.2],[182,23.8],[189,25.4],[196,24.4],[210,25.6],[216.5,30],[224,27.7],[231.5,31.3],[238,35.1],[244.6,34.4],[252.6,41.5],[258.6,39.2],[265.5,31.3],[272.5,40.3],[280,41.5],[288,39.7],[293.6,37.2],[300,37.7],[307.5,29],[313,20.5]];
const f_air = [[0,14.3],[3.5,10],[7,9.5],[10,8.7],[14,7.5],[17,5.4],[21,3.7],[25,4.4],[30,2.4],[34.5,3.7],[39,1.1],[44,-1.4],[48,-0.7],[53,-2.7],[57.6,-4],[61,-5.2],[64.5,1.9],[68,1.1],[71,-1.4],[75,-7.8],[78,-12.8],[82,-10.3],[84.5,-4],[87.5,-12.8],[91,-21.7],[94,-16.6],[98,-9.8],[101,-31.9],[105,-19.2],[108,-17.9],[112,-29.3],[114.5,-17.9],[117.5,-25.5],[121,-23],[124,-29.3],[128,-26.8],[131,-30.6],[135,-26.8],[138,-31.9],[141.6,-21.7],[145,-35.7],[148.5,-29.3],[151,-39.5],[154,-29.3],[158,-33.1],[161,-30.6],[165,-33.1],[167,-29.3],[169,-12.8],[171.6,-24.3],[175,-28.1],[178.5,-29.3],[182,-35.7],[185,-31.9],[189,-26.8],[192,-34.4],[196,-29.3],[199,-34.4],[203,-28.1],[206,-38.2],[210,-31.9],[213,-26.8],[216.5,-34.4],[220,-39.5],[222,-40.8],[226,-35.7],[229,-31.9],[233,-33.1],[236,-28.1],[239.5,-21.7],[243,-26.8],[246,-23],[250,-19.2],[253,-21.7],[257,-15.4],[260,-19.2],[264,-12.8],[267,-15.4],[270.6,-7.3],[274,-12.8],[277.5,-16.6],[281,-12.8],[284,-12.8],[288,-9],[291,-10.3],[295,-4],[298,-6.5],[302,-2.7],[305,-0.2],[310,-1.4],[314,0.4],[319,1.1],[323.6,2.4],[328,4.4],[333,7.5]];
const f_soil = [[0,13.8],[8,10],[17,7.5],[26.5,5.4],[36,4.4],[45,2.9],[54,0.4],[63,-0.7],[72.5,-0.2],[82,-0.2],[91,-1.4],[100,-4],[107,-5.2],[114,-7.8],[123,-11.6],[132,-16.1],[141.6,-19.9],[151,-22.5],[160,-24.3],[169,-23.5],[178.5,-24.3],[188,-25],[197,-25.5],[206,-25],[215,-26.8],[224.5,-28.1],[234,-28.1],[243,-26],[252,-23.5],[261,-20.5],[270.6,-17.4],[280,-15.9],[289,-14.1],[298,-12.3],[307.5,-10.8],[316.7,-9.8],[321,-6.5],[324.7,-2.7],[327,-0.2],[333,-0.2]];
const f_ws = [[73,54.1],[74.4,44.4],[76,39.3],[79.5,34.3],[86,29.2],[98,25.4],[114,21.6],[135,19],[155.5,17.8],[322.4,17.8]];
const f_dhs = [[73,40.6],[74.4,33],[77,27.9],[82,22.8],[91,19],[105,15.2],[118.6,12.2],[128,10.7],[322.4,10.7]];
const f_dtb = [[1,-11.8],[4.6,-10.3],[8,-11.3],[14,-10.3],[18,-12.8],[24,-11.3],[30,-10.3],[34.5,-11.8],[39,-12.4],[44,-10.3],[48,-8.5],[54,-6.8],[59,-6],[63,-4.3],[67,-6.8],[72,-10.7],[77,-8.5],[84,-6.4],[91,-3.2],[98,-2.1],[105,1.1],[110.5,4.3],[116,8.6],[123,10.3],[130,13.9],[137,16.7],[144,18.2],[151,20.4],[160,21.4],[167,22.5],[173,21.4],[178.5,19.3],[183,22.5],[188,24],[197,23.6],[206,24.6],[215,25.7],[224.5,27.9],[234,27.4],[243,26.8],[252,26.8],[261,25.3],[270.6,24.6],[280,26.1],[289,24],[296,22.5],[304,23.6],[307.5,18.2],[310,21.4],[313,25.3],[316.7,17.2],[320,5.4],[322.5,0],[326,-3.8],[329.4,-5.3],[333,-4.3]];
const f_stats = ['55.5','15.2','70.7','30.2','-0.708'];

// ===================== BUILD =====================
const FONT = 'Liberation Serif';
const panels = [
  {row:0,col:0,xTicks:xTicksStd, xMax:334,xLabels:a_xLabels,stateLines:a_stateLines,stateLabels:a_stateLabels,alg:a_alg,band:a_band,canswe:a_canswe,outliers:a_outliers,aws:a_aws,dh:a_dh,sweDepth:a_sweDepth,air:a_air,soil:a_soil,ws:a_ws,dhs:a_dhs,dtb:a_dtb,stats:a_stats,legend:true},
  {row:0,col:1,xTicks:xTicksStd, xMax:334,xLabels:b_xLabels,stateLines:b_stateLines,stateLabels:b_stateLabels,alg:b_alg,band:b_band,canswe:b_canswe,outliers:b_outliers,aws:b_aws,dh:b_dh,sweDepth:b_sweDepth,air:b_air,soil:b_soil,ws:b_ws,dhs:b_dhs,dtb:b_dtb,stats:b_stats},
  {row:0,col:2,xTicks:xTicksStd, xMax:334,xLabels:c_xLabels,stateLines:c_stateLines,stateLabels:c_stateLabels,alg:c_alg,band:c_band,canswe:c_canswe,outliers:c_outliers,aws:c_aws,dh:c_dh,sweDepth:c_sweDepth,air:c_air,soil:c_soil,ws:c_ws,dhs:c_dhs,dtb:c_dtb,stats:c_stats},
  {row:1,col:0,xTicks:xTicksStd, xMax:334,xLabels:d_xLabels,stateLines:d_stateLines,stateLabels:d_stateLabels,alg:d_alg,band:d_band,canswe:d_canswe,outliers:d_outliers,aws:d_aws,dh:d_dh,sweDepth:d_sweDepth,air:d_air,soil:d_soil,ws:d_ws,dhs:d_dhs,dtb:d_dtb,stats:d_stats,legend:true},
  {row:1,col:1,xTicks:xTicksLeap,xMax:335,xLabels:e_xLabels,stateLines:e_stateLines,stateLabels:e_stateLabels,alg:e_alg,band:e_band,canswe:e_canswe,outliers:e_outliers,aws:e_aws,dh:e_dh,sweDepth:e_sweDepth,air:e_air,soil:e_soil,ws:e_ws,dhs:e_dhs,dtb:e_dtb,stats:e_stats},
  {row:1,col:2,xTicks:xTicksStd, xMax:334,xLabels:f_xLabels,stateLines:f_stateLines,stateLabels:f_stateLabels,alg:f_alg,band:f_band,canswe:f_canswe,outliers:f_outliers,aws:f_aws,dh:f_dh,sweDepth:f_sweDepth,air:f_air,soil:f_soil,ws:f_ws,dhs:f_dhs,dtb:f_dtb,stats:f_stats}
];

const COLS = [[106,561],[731,540],[1332,540]];
const ROW_OFF = [0,846];
const SUB = [[58,22],[87,211],[304,117],[427,116],[550,117],[673,117]];
const YCFG = [
  null,
  {min:100,max:500,ticks:densTicks,name:'{n|Density (kg m}{s|−3}{n|)}'},
  {min:-5,max:55.3,ticks:depthTicks,name:'{n|Depth (cm)}'},
  {min:-45,max:15,ticks:tempTicks,name:'{n|Temp (°C)}'},
  {min:-5,max:54.5,ticks:ssaTicks,name:'{n|SSA (m}{s|2}{n| kg}{s|−1}{n|)}'},
  {min:-15,max:35,ticks:dtbTicks,name:'{n|ΔTb (K)}'}
];
// tightly spaced label sets are split over two overlaid axes so the library keeps every label
const SPLIT_LABELS = {2:true, 3:true, 4:true};

const P = arr => arr.map(p => p === null ? ['-','-'] : p);
function vl(days, zero){
  const d = days.map(x => ({xAxis:x}));
  if (zero) d.push({yAxis:0, lineStyle:{color:'#8c8c8c', type:[5,4], width:1.2}});
  return {silent:true, animation:false, symbol:['none','none'], label:{show:false}, emphasis:{disabled:true},
    lineStyle:{color:'#6e6e6e', type:[5,4], width:1.2}, data:d};
}
function errRender(dot){
  return function(params, api){
    const x = api.value(0), m = api.value(1), lo = api.value(2), hi = api.value(3);
    const pm = api.coord([x,m]), pl = api.coord([x,lo]), ph = api.coord([x,hi]);
    const st = {stroke:'#000', lineWidth:1.8};
    return {type:'group', children:[
      {type:'line', shape:{x1:pm[0],y1:ph[1],x2:pm[0],y2:pl[1]}, style:st},
      {type:'line', shape:{x1:pm[0]-4.5,y1:ph[1],x2:pm[0]+4.5,y2:ph[1]}, style:st},
      {type:'line', shape:{x1:pm[0]-4.5,y1:pl[1],x2:pm[0]+4.5,y2:pl[1]}, style:st},
      {type:'circle', shape:{cx:pm[0],cy:pm[1],r:2.8}, style:{fill:dot}}
    ]};
  };
}
function bandRender(params, api){
  if (params.dataIndexInside !== 0) return null;
  const n = params.dataInsideLength;
  const polys = []; let top = [], bot = [];
  const flush = () => {
    if (top.length > 1) polys.push({type:'polygon', shape:{points: top.concat(bot.reverse())}, style:{fill:'#add8e6', stroke:'#add8e6', lineWidth:0.5}});
    top = []; bot = [];
  };
  for (let i = 0; i < n; i++) {
    const x = api.value(0, i), lo = api.value(1, i), hi = api.value(2, i);
    if (isNaN(x) || isNaN(lo) || isNaN(hi)) { flush(); continue; }
    top.push(api.coord([x, hi])); bot.push(api.coord([x, lo]));
  }
  flush();
  return {type:'group', children: polys};
}
const ICON_LINE = 'path://M0,0M40,20M0,9.2h40v1.6h-40z';
const ICON_DASH = 'path://M0,0M40,20M0,9.2h7v1.6h-7zM11,9.2h7v1.6h-7zM22,9.2h7v1.6h-7zM33,9.2h7v1.6h-7z';
const ICON_ERR = 'path://M0,0M40,20M19.1,1.2h1.8v17.6h-1.8zM15.5,0.3h9v1.8h-9zM15.5,17.9h9v1.8h-9zM22.8,10A2.8,2.8,0,1,1,17.2,10A2.8,2.8,0,1,1,22.8,10z';
const ICON_OUT = 'path://M0,0M40,20M19.3,1h1.4v18h-1.4zM22.8,10A2.8,2.8,0,1,1,17.2,10A2.8,2.8,0,1,1,22.8,10z';
const ICON_RECT = 'path://M0,0M40,20M0,2h40v16h-40z';
const ICON_SQ = 'path://M0,0M40,20M16,6h8v8h-8z';

const grids=[], xAxes=[], yAxes=[], series=[], legends=[], graphics=[];
const nameRich = {n:{fontFamily:FONT,fontSize:19,color:'#000',lineHeight:22}, s:{fontFamily:FONT,fontSize:13,color:'#000',verticalAlign:'top',lineHeight:12}};
const labelBase = {show:true, margin:20, fontFamily:FONT, fontSize:21, color:'#000',
  showMinLabel:true, showMaxLabel:true, hideOverlap:false, formatter:(v)=>String(v).replace('-','\u2212')};

panels.forEach((p, g) => {
  const [L, W] = COLS[p.col];
  const R0 = ROW_OFF[p.row];
  const yIdx = [];
  SUB.forEach(([t,h], k) => {
    const gi = g*6 + k;
    grids.push({left:L, top:R0+t, width:W, height:h, show:true, borderColor:'#000', borderWidth:1.4,
      backgroundColor:'rgba(0,0,0,0)', containLabel:false, outerBoundsMode:'none'});
    const show = k > 0;
    xAxes.push({type:'value', gridIndex:gi, position:'bottom', min:-8, max:p.xMax,
      axisLine:{show:false, onZero:false},
      axisTick:{show:show, inside:false, length:6, customValues:p.xTicks, lineStyle:{color:'#000', width:1.3}},
      axisLabel:{show:k===5, customValues:p.xTicks, margin:8, fontFamily:FONT, fontSize:21, color:'#000',
        showMinLabel:true, showMaxLabel:true, hideOverlap:false,
        formatter:(v)=>{const i=p.xTicks.indexOf(v); return i>=0 ? p.xLabels[i] : '';}},
      splitLine:{show:show, lineStyle:{color:'#b4b4b4', width:1.2}}});
    xAxes.push({type:'value', gridIndex:gi, position:'top', min:-8, max:p.xMax,
      axisLine:{show:false, onZero:false},
      axisTick:{show:show, inside:false, length:6, customValues:p.xTicks, lineStyle:{color:'#000', width:1.3}},
      axisLabel:{show:false}, splitLine:{show:false}});
    yIdx[k] = yAxes.length;
    if (k === 0) {
      yAxes.push({type:'value', gridIndex:gi, min:-1, max:1, show:false, axisLine:{onZero:false}});
    } else {
      const c = YCFG[k];
      const split = SPLIT_LABELS[k];
      const mainLabels = split ? c.ticks.filter((v,i)=>i%2===0) : c.ticks;
      const ya = {type:'value', gridIndex:gi, min:c.min, max:c.max, position:'left',
        axisLine:{show:false, onZero:false},
        axisTick:{show:true, inside:false, length:6, customValues:c.ticks, lineStyle:{color:'#000', width:1.3}},
        axisLabel:Object.assign({}, labelBase, {customValues:mainLabels}),
        splitLine:{show:true, lineStyle:{color:'#b4b4b4', width:1.2}}};
      if (p.col === 0) {
        ya.name = c.name; ya.nameLocation = 'middle'; ya.nameGap = 62;
        ya.nameTextStyle = {fontFamily:FONT, fontSize:19, color:'#000', rich:nameRich};
      }
      yAxes.push(ya);
      if (split) {
        yAxes.push({type:'value', gridIndex:gi, min:c.min, max:c.max, position:'left', offset:0,
          axisLine:{show:false, onZero:false}, axisTick:{show:false}, splitLine:{show:false},
          axisLabel:Object.assign({}, labelBase, {customValues:c.ticks.filter((v,i)=>i%2===1)})});
      }
    }
  });
  const xi = k => 2*(g*6+k), yi = k => yIdx[k];
  // state bar
  series.push({type:'scatter', xAxisIndex:xi(0), yAxisIndex:yi(0), silent:true, symbolSize:1,
    itemStyle:{color:'rgba(0,0,0,0)'}, animation:false,
    label:{show:true, position:'inside', formatter:'{b}', fontFamily:FONT, fontSize:18, color:'#000'},
    data:[{value:[-8,0], name:'State:', label:{position:'right', distance:7}}]
      .concat(p.stateLabels.map(s => ({value:[s[0],0], name:s[1]}))),
    markLine:vl(p.stateLines)});
  // density
  series.push({type:'custom', name:'_band'+g, xAxisIndex:xi(1), yAxisIndex:yi(1), clip:true, silent:true,
    renderItem:bandRender, encode:{x:0, y:[1,2]},
    data:p.band.map(b => b ? b : ['-','-','-']), markLine:vl(p.stateLines)});
  series.push({type:'line', name:'Algorithm', xAxisIndex:xi(1), yAxisIndex:yi(1), symbol:'none', showSymbol:false,
    lineStyle:{color:'#0000ff', width:1.6}, itemStyle:{color:'#0000ff'}, data:P(p.alg)});
  series.push({type:'custom', name:'CanSWE', xAxisIndex:xi(1), yAxisIndex:yi(1), clip:true,
    itemStyle:{color:'#000'}, renderItem:errRender('#000'), encode:{x:0, y:1}, data:p.canswe});
  series.push({type:'custom', name:'Outliers', xAxisIndex:xi(1), yAxisIndex:yi(1), clip:true,
    itemStyle:{color:'#ff0000'}, renderItem:errRender('#ff0000'), encode:{x:0, y:1}, data:p.outliers});
  // depth
  series.push({type:'line', name:'Depth Hoar', xAxisIndex:xi(2), yAxisIndex:yi(2), symbol:'none',
    lineStyle:{width:0}, itemStyle:{color:'#808080'}, areaStyle:{color:'#808080', opacity:1}, data:P(p.dh), markLine:vl(p.stateLines)});
  series.push({type:'line', name:'AWS', xAxisIndex:xi(2), yAxisIndex:yi(2), symbol:'none',
    lineStyle:{color:'#ffa500', width:1.6}, itemStyle:{color:'#ffa500'}, data:P(p.aws)});
  series.push({type:'scatter', name:'CanSWE', xAxisIndex:xi(2), yAxisIndex:yi(2), symbol:'rect', symbolSize:8,
    itemStyle:{color:'#000'}, data:p.sweDepth});
  // temp
  series.push({type:'line', name:'Air', xAxisIndex:xi(3), yAxisIndex:yi(3), symbol:'none',
    lineStyle:{color:'#000', width:1.3}, itemStyle:{color:'#000'}, data:P(p.air), markLine:vl(p.stateLines, true)});
  series.push({type:'line', name:'Soil', xAxisIndex:xi(3), yAxisIndex:yi(3), symbol:'none',
    lineStyle:{color:'#008000', width:1.3}, itemStyle:{color:'#008000'}, data:P(p.soil)});
  // SSA
  series.push({type:'line', name:'WS', xAxisIndex:xi(4), yAxisIndex:yi(4), symbol:'none',
    lineStyle:{color:'#000', width:1.5, type:[6,4]}, itemStyle:{color:'#000'}, data:P(p.ws), markLine:vl(p.stateLines, true)});
  series.push({type:'line', name:'DH', xAxisIndex:xi(4), yAxisIndex:yi(4), symbol:'none',
    lineStyle:{color:'#000', width:1.5}, itemStyle:{color:'#000'}, data:P(p.dhs)});
  // dTb
  series.push({type:'line', name:'ΔTb', xAxisIndex:xi(5), yAxisIndex:yi(5), symbol:'none',
    lineStyle:{color:'#800080', width:1.3}, itemStyle:{color:'#800080'}, data:P(p.dtb), markLine:vl(p.stateLines, true)});

  // texts
  const z = 100;
  graphics.push({type:'text', x:L+W/2, y:R0+28, z, style:{text:titles[g], font:'bold 21px "Liberation Serif"', fill:'#000', align:'center', verticalAlign:'middle', textAlign:'center', textVerticalAlign:'middle'}});
  graphics.push({type:'text', x:L+10, y:R0+87+41, z, style:{text:letters[g], font:'58px "Liberation Serif"', fill:'#000', align:'left', verticalAlign:'middle', textAlign:'left', textVerticalAlign:'middle'}});
  statNames.forEach((s, i) => {
    const y = R0 + 87 + 125 + i*18.7;
    graphics.push({type:'text', x:L+W-84, y, z, style:{text:s, font:'21px "Liberation Serif"', fill:'#000', align:'right', verticalAlign:'middle', textAlign:'right', textVerticalAlign:'middle'}});
    graphics.push({type:'text', x:L+W-11.5, y, z, style:{text:p.stats[i], font:'21px "Liberation Serif"', fill:'#000', align:'right', verticalAlign:'middle', textAlign:'right', textVerticalAlign:'middle'}});
  });

  if (p.legend) {
    const base = {orient:'vertical', itemWidth:40, itemHeight:20, itemGap:8, padding:[6,8,6,7],
      backgroundColor:'rgba(255,255,255,0.8)', borderColor:'#cccccc', borderWidth:1.5, borderRadius:4,
      selectedMode:false, z:6, itemStyle:{borderWidth:0},
      textStyle:{fontFamily:FONT, fontSize:18, color:'#000', lineHeight:20, padding:[0,0,0,9]}};
    legends.push(Object.assign({}, base, {left:L+9.5, top:R0+200, data:[{name:'Algorithm', icon:ICON_LINE},{name:'CanSWE', icon:ICON_ERR},{name:'Outliers', icon:ICON_OUT}]}));
    legends.push(Object.assign({}, base, {left:L+9.5, top:R0+313, data:[{name:'AWS', icon:ICON_LINE},{name:'Depth Hoar', icon:ICON_RECT},{name:'CanSWE', icon:ICON_SQ}]}));
    legends.push(Object.assign({}, base, {left:L+9.5, top:R0+473, data:[{name:'Air', icon:ICON_LINE},{name:'Soil', icon:ICON_LINE}]}));
    legends.push(Object.assign({}, base, {left:L+9.5, top:R0+597, data:[{name:'WS', icon:ICON_DASH},{name:'DH', icon:ICON_LINE}]}));
  }
});

const chart = echarts.init(document.getElementById('c'), null, {renderer:'canvas'});
chart.setOption({
  animation:false,
  backgroundColor:'#ffffff',
  textStyle:{fontFamily:FONT},
  grid:grids, xAxis:xAxes, yAxis:yAxes, series:series, legend:legends, graphic:graphics
});
</script></body></html>
